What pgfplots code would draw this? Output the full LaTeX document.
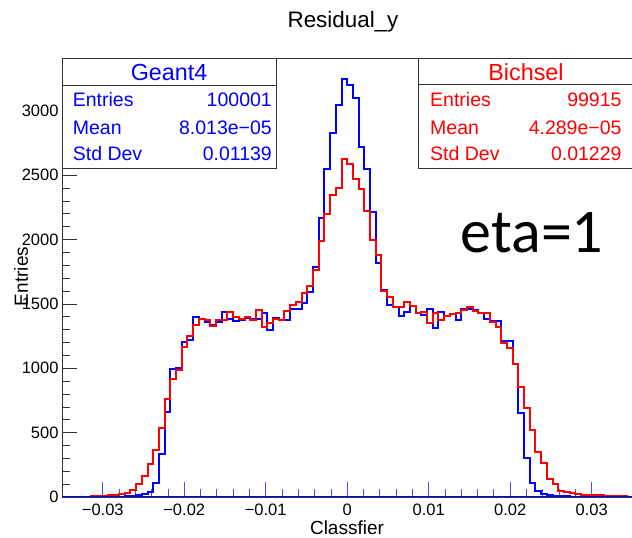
\documentclass[border=0pt]{standalone}
\usepackage{pgfplots}
\pgfplotsset{compat=1.18}
\usepackage{pgfplotstable}
\usepackage{fontspec}
\setmainfont{Liberation Sans}
\newfontfamily\carlito{Carlito}

\pgfplotstableread{
x g4 bi
-0.0350 0 0
-0.0343 0 1
-0.0336 0 1
-0.0329 0 2
-0.0322 1 3
-0.0315 0 5
-0.0308 1 6
-0.0301 1 8
-0.0294 2 12
-0.0287 2 15
-0.0280 3 20
-0.0273 4 30
-0.0266 6 54
-0.0259 12 98
-0.0252 22 160
-0.0245 41 254
-0.0238 111 368
-0.0231 333 534
-0.0224 658 765
-0.0217 995 918
-0.0210 1005 990
-0.0203 1205 1168
-0.0196 1222 1253
-0.0189 1396 1334
-0.0182 1384 1380
-0.0175 1360 1375
-0.0168 1340 1330
-0.0161 1357 1375
-0.0154 1437 1372
-0.0147 1380 1436
-0.0140 1365 1400
-0.0133 1378 1380
-0.0126 1392 1398
-0.0119 1380 1378
-0.0112 1380 1455
-0.0105 1432 1317
-0.0098 1298 1350
-0.0091 1388 1380
-0.0084 1375 1372
-0.0077 1372 1442
-0.0070 1458 1492
-0.0063 1462 1518
-0.0056 1510 1586
-0.0049 1596 1638
-0.0042 1790 1760
-0.0035 2166 1988
-0.0028 2547 2195
-0.0021 2826 2343
-0.0014 3047 2403
-0.0007 3248 2628
0.0000 3201 2589
0.0007 3103 2473
0.0014 2722 2393
0.0021 2552 2225
0.0028 2217 1997
0.0035 1816 1880
0.0042 1608 1600
0.0049 1492 1551
0.0056 1480 1479
0.0063 1409 1474
0.0070 1440 1518
0.0077 1484 1484
0.0084 1432 1427
0.0091 1414 1440
0.0098 1458 1349
0.0105 1316 1427
0.0112 1440 1375
0.0119 1409 1409
0.0126 1419 1419
0.0133 1375 1427
0.0140 1458 1453
0.0147 1458 1474
0.0154 1453 1448
0.0161 1427 1432
0.0168 1380 1427
0.0175 1370 1362
0.0182 1370 1324
0.0189 1215 1194
0.0196 1215 1160
0.0203 1031 1031
0.0210 655 852
0.0217 301 689
0.0224 106 521
0.0231 49 352
0.0238 23 267
0.0245 15 137
0.0252 10 101
0.0259 6 49
0.0266 4 36
0.0273 3 28
0.0280 2 20
0.0287 1 18
0.0294 1 18
0.0301 0 15
0.0308 1 15
0.0315 0 10
0.0322 0 8
0.0329 0 6
0.0336 0 4
0.0343 0 3
0.0350 0 3
}\hist

\begin{document}
\begin{tikzpicture}[x=1bp,y=1bp]
\begin{axis}[
  at={(0,0)}, anchor=south west,
  scale only axis, width=570.4bp, height=439bp,
  xmin=-0.035, xmax=0.035, ymin=0, ymax=3411,
  scaled x ticks=false, scaled y ticks=false,
  xtick={-0.03,-0.02,-0.01,0,0.01,0.02,0.03},
  xticklabels={−0.03,−0.02,−0.01,0,0.01,0.02,0.03},
  minor x tick num=4,
  ytick={0,500,1000,1500,2000,2500,3000},
  yticklabels={0,500,1000,1500,2000,2500,3000},
  minor y tick num=4,
  xtick pos=bottom, ytick pos=left, tick align=inside,
  major tick length=15bp, minor tick length=8bp,
  tick label style={font=\fontsize{16.5bp}{18bp}\selectfont},
  xticklabel style={anchor=base, yshift=-18.7bp},
  yticklabel style={anchor=east},
  xtick style={blue!70, line width=0.8bp},
  ytick style={black!80, line width=0.8bp},
  axis line style={black!80, line width=0.8bp},
]
\addplot[blue, line width=2bp, const plot] table[x=x,y=g4]{\hist};
\addplot[red, line width=2bp, const plot] table[x=x,y=bi]{\hist};
\addplot[blue, line width=2bp] coordinates {(-0.035,0) (0.035,0)};
\end{axis}

% stat boxes
\draw[black!80, line width=0.8bp, fill=white] (0,439) rectangle (214,329);
\draw[black!80, line width=0.8bp] (0,412) -- (214,412);
\node[blue, anchor=base, inner sep=0, font=\fontsize{23.3bp}{26bp}\selectfont] at (107,416) {Geant4};
\begin{scope}[every node/.style={blue, inner sep=0, font=\fontsize{19.5bp}{22bp}\selectfont}]
\node[anchor=base west] at (10.7,390.3) {Entries};
\node[anchor=base east] at (210,390.3) {100001};
\node[anchor=base west] at (10.7,362.7) {Mean};
\node[anchor=base east] at (210,362.7) {8.013e−05};
\node[anchor=base west] at (10.7,336) {Std Dev};
\node[anchor=base east] at (210,336) {0.01139};
\end{scope}

\draw[black!80, line width=0.8bp, fill=white] (356,439) rectangle (590,329);
\draw[black!80, line width=0.8bp] (356,412.5) -- (590,412.5);
\node[red, anchor=base, inner sep=0, font=\fontsize{23.3bp}{26bp}\selectfont] at (464,416) {Bichsel};
\begin{scope}[every node/.style={red, inner sep=0, font=\fontsize{19.5bp}{22bp}\selectfont}]
\node[anchor=base west] at (368,390.3) {Entries};
\node[anchor=base east] at (559.7,390.3) {99915};
\node[anchor=base west] at (368,362.7) {Mean};
\node[anchor=base east] at (559.7,362.7) {4.289e−05};
\node[anchor=base west] at (368,336) {Std Dev};
\node[anchor=base east] at (559.7,336) {0.01229};
\end{scope}

% texts
\node[anchor=base, inner sep=0, font=\fontsize{22.4bp}{26bp}\selectfont] at (281,469) {Residual\_y};
\node[anchor=base, inner sep=0, font=\carlito\fontsize{62bp}{70bp}\selectfont] at (470,244) {eta=1};
\node[rotate=90, anchor=base, inner sep=0, font=\fontsize{19bp}{22bp}\selectfont] at (-34,220.5) {Entries};
\node[anchor=base, inner sep=0, font=\fontsize{19bp}{22bp}\selectfont] at (285,-38) {Classfier};

\pgfresetboundingbox
\path[use as bounding box] (-62,-41) rectangle (570,497);
\end{tikzpicture}
\end{document}
